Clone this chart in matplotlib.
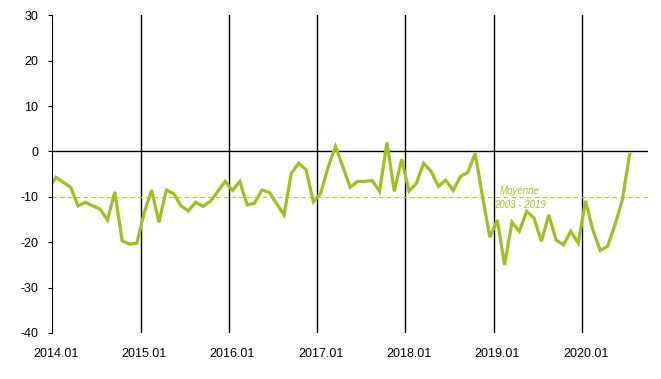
import numpy as np
import matplotlib

matplotlib.use("Agg")
import matplotlib.pyplot as plt

# monthly values, 2013.12 (clipped at the left edge) to 2020.07
values = [
    -8.3,
    -5.7, -6.8, -7.9, -12.0, -11.2, -12.0, -12.7, -15.1, -8.9, -19.7, -20.4, -20.2,
    -13.5, -8.5, -15.6, -8.5, -9.3, -12.0, -13.1, -11.2, -12.1, -11.0, -8.8, -6.6,
    -8.6, -6.6, -11.8, -11.4, -8.5, -9.0, -11.5, -14.0, -4.8, -2.6, -4.0, -11.1,
    -9.2, -3.5, 1.1, -3.3, -7.9, -6.6, -6.6, -6.4, -8.8, 2.0, -8.8, -1.7,
    -8.8, -7.0, -2.6, -4.4, -7.7, -6.3, -8.6, -5.5, -4.6, -0.4, -10.0, -18.9,
    -15.1, -25.0, -15.6, -17.6, -13.2, -14.7, -19.8, -14.0, -19.5, -20.6, -17.6, -20.2,
    -10.9, -17.3, -21.8, -20.9, -16.2, -10.7, -0.6,
]
month_index = np.arange(-1, len(values) - 1)

year_labels = ["2014.01", "2015.01", "2016.01", "2017.01", "2018.01", "2019.01", "2020.01"]
y_ticks = [30, 20, 10, 0, -10, -20, -30, -40]
mean_value = -10
n_categories = 81  # 2014.01 .. 2020.09 on the category axis

line_color = "#9dc220"
mean_color = "#b8cc22"
text_color = "#a4c034"

plt.rcParams["font.family"] = ["Liberation Sans", "DejaVu Sans"]

fig = plt.figure(figsize=(6.61, 3.79), dpi=100)
ax = fig.add_axes([0.0791, 0.1214, 0.9013, 0.8382])

ax.set_xlim(-0.5, n_categories - 0.5)
ax.set_ylim(-40, 30)

# year separators between categories
label_pos = np.arange(len(year_labels)) * 12
ax.set_xticks(label_pos)
ax.set_xticklabels(year_labels, fontsize=9)
ax.set_xticks(label_pos[1:] - 0.5, minor=True)
ax.tick_params(axis="x", which="both", length=0, pad=11)
ax.grid(which="minor", axis="x", color="black", linewidth=1)

ax.set_yticks(y_ticks)
ax.set_yticklabels([str(v) for v in y_ticks], fontsize=9)
ax.tick_params(axis="y", length=3, width=0.8, pad=7)

for s in ["top", "right", "bottom"]:
    ax.spines[s].set_visible(False)
ax.spines["left"].set_linewidth(0.8)

ax.axhline(0, color="black", linewidth=1)
ax.axhline(mean_value, color=mean_color, linewidth=0.8, linestyle=(0, (4, 3)))

ax.plot(month_index, values, color=line_color, linewidth=2.3, solid_joinstyle="miter")

ax.text(63.1, mean_value + 1.3, "Moyenne", color=text_color, fontsize=7,
        style="italic", ha="center", va="center")
ax.text(63.1, mean_value - 1.75, "2003 - 2019", color=text_color, fontsize=7,
        style="italic", ha="center", va="center")

fig.savefig("out.png", dpi=100)
